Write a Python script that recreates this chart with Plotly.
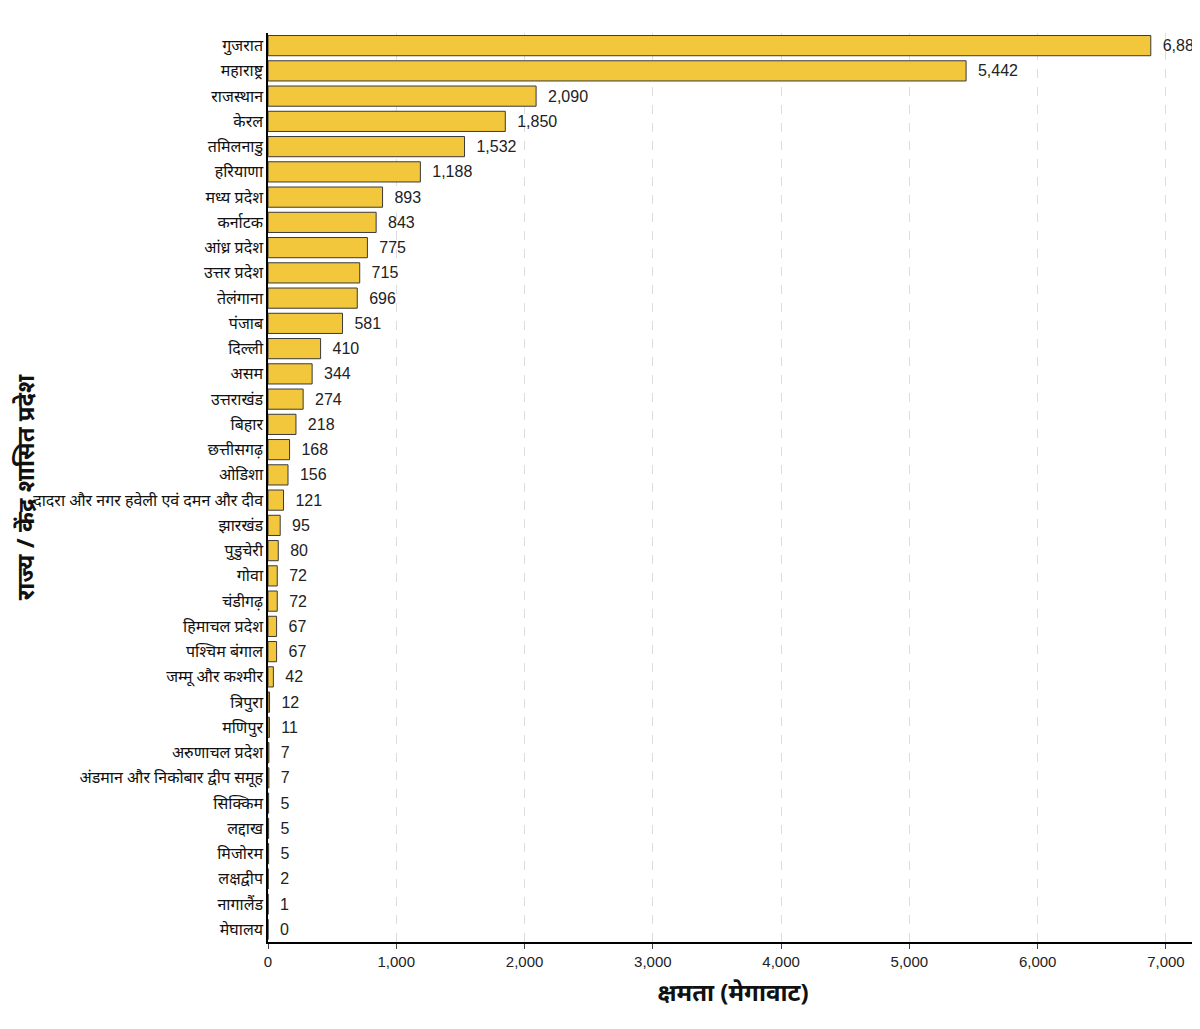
import plotly.graph_objects as go

states = ["गुजरात","महाराष्ट्र","राजस्थान","केरल","तमिलनाडु","हरियाणा","मध्य प्रदेश","कर्नाटक","आंध्र प्रदेश","उत्तर प्रदेश","तेलंगाना","पंजाब","दिल्ली","असम","उत्तराखंड","बिहार","छत्तीसगढ़","ओडिशा","दादरा और नगर हवेली एवं दमन और दीव","झारखंड","पुडुचेरी","गोवा","चंडीगढ़","हिमाचल प्रदेश","पश्चिम बंगाल","जम्मू और कश्मीर","त्रिपुरा","मणिपुर","अरुणाचल प्रदेश","अंडमान और निकोबार द्वीप समूह","सिक्किम","लद्दाख","मिजोरम","लक्षद्वीप","नागालैंड","मेघालय"]
values = [6882,5442,2090,1850,1532,1188,893,843,775,715,696,581,410,344,274,218,168,156,121,95,80,72,72,67,67,42,12,11,7,7,5,5,5,2,1,0]
xticks = [0,1000,2000,3000,4000,5000,6000,7000]

fig = go.Figure(go.Bar(
    x=values, y=states, orientation="h",
    marker=dict(color="#F2C73C", line=dict(color="#3a3a3a", width=1)),
    text=[f"  {v:,}" for v in values], textposition="outside",
    textfont=dict(size=16, color="#222", family="Liberation Sans, Arial"),
    cliponaxis=False,
))
fig.update_layout(
    width=1200, height=1029, plot_bgcolor="white", paper_bgcolor="white",
    margin=dict(l=260, r=10, t=25, b=95), bargap=0.2, showlegend=False,
    font=dict(family="Noto Sans, Lato, sans-serif", color="#111"),
)
fig.update_yaxes(autorange="reversed", showline=True, linecolor="black", linewidth=1.5,
                 ticks="", tickfont=dict(size=16, color="#111"), automargin=False,
                 title=dict(text="<b>राज्य / केंद्र शासित प्रदेश</b>", font=dict(size=24), standoff=8))
fig.update_xaxes(range=[0, 7250], tickvals=xticks, ticktext=[f"{t:,}" for t in xticks],
                 showline=True, linecolor="black", linewidth=1.5, ticks="outside", ticklen=5,
                 showgrid=True, gridcolor="#dddddd", griddash="dash", zeroline=False, automargin=False,
                 tickfont=dict(size=15, family="Liberation Sans, Arial", color="#222"),
                 title=dict(text="<b>क्षमता (मेगावाट)</b>", font=dict(size=24)))
fig.write_html("out.html")
